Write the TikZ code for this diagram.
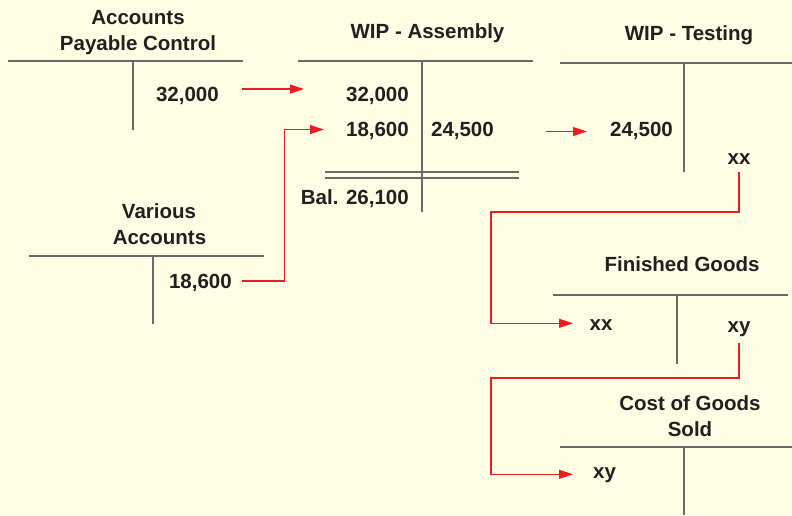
\documentclass[tikz,border=0pt]{standalone}
\usepackage{fontspec}
\setmainfont{Liberation Sans}
\usetikzlibrary{arrows.meta}
\definecolor{bg}{HTML}{FFFFE6}
\definecolor{ink}{HTML}{231F20}
\definecolor{tline}{HTML}{6A6A6A}
\definecolor{flow}{HTML}{ED1C24}
\tikzset{
  lbl/.style={font=\fontsize{20.5}{24}\selectfont\bfseries, text=ink, inner sep=0pt, anchor=base},
  lblr/.style={lbl, anchor=base east},
  tacc/.style={draw=tline, line width=1.3pt},
  flowline/.style={draw=flow, line width=1.2pt, -{Triangle[length=14pt,width=9pt]}}
}
\begin{document}
\begin{tikzpicture}[x=1pt,y=-1pt]
\fill[bg] (0,0) rectangle (792,515);
\useasboundingbox (0,0) rectangle (792,515);

% Accounts Payable Control
\node[lbl] (apt1) at (138,24) {Accounts};
\node[lbl] (apt2) at (138,50) {Payable Control};
\draw[tacc] (8,61) -- (243,61);
\draw[tacc] (133,61) -- (133,130);
\node[lblr] (ap32) at (219,101.5) {32,000};

% WIP - Assembly
\node[lbl] (wat) at (427.5,38.5) {WIP - Assembly};
\draw[tacc] (298,61) -- (533,61);
\draw[tacc] (422,61) -- (422,212);
\node[lblr] (wa32) at (409,101.5) {32,000};
\node[lblr] (wa18) at (409,136.5) {18,600};
\node[lblr] (wa24) at (494,136.5) {24,500};
\draw[tacc, line width=1.1pt] (325,172) -- (519,172);
\draw[tacc, line width=1.1pt] (325,178) -- (519,178);
\node[lblr] (wabal) at (409,204) {Bal. 26,100};

% WIP - Testing
\node[lbl] (wtt) at (689,40.5) {WIP - Testing};
\draw[tacc] (560,63) -- (792,63);
\draw[tacc] (684,63) -- (684,172);
\node[lblr] (wt24) at (673,136.5) {24,500};
\node[lbl] (wtxx) at (739,164) {xx};

% Various Accounts
\node[lbl] (vat1) at (159,218) {Various};
\node[lbl] (vat2) at (159.5,244.3) {Accounts};
\draw[tacc] (29,256) -- (264,256);
\draw[tacc] (153,256) -- (153,324);
\node[lblr] (va18) at (232,288) {18,600};

% Finished Goods
\node[lbl] (fgt) at (682,271) {Finished Goods};
\draw[tacc] (553,295) -- (788,295);
\draw[tacc] (677,295) -- (677,364);
\node[lbl] (fgxx) at (601,330) {xx};
\node[lbl] (fgxy) at (739,332.5) {xy};

% Cost of Goods Sold
\node[lbl] (cgt1) at (690,410) {Cost of Goods};
\node[lbl] (cgt2) at (690,436) {Sold};
\draw[tacc] (560,447) -- (792,447);
\draw[tacc] (684,447) -- (684,515);
\node[lbl] (cgxy) at (604.5,478) {xy};

% connector ends
\coordinate (a1s) at (242,89);
\coordinate (a1e) at (304,89);
\coordinate (a2s) at (242,281);
\coordinate (a2e) at (324,129.5);
\coordinate (a3s) at (546,131.5);
\coordinate (a3e) at (587,131.5);
\coordinate (a4s) at (739,172);
\coordinate (a4e) at (573,323.3);
\coordinate (a5s) at (739,343.3);
\coordinate (a5e) at (573,474.3);

\draw[flowline] (a1s) -- (a1e);
\draw[flowline] (a2s) -- (284.5,281) -- (284.5,129.5) -- (a2e);
\draw[flowline] (a3s) -- (a3e);
\draw[flowline] (a4s) -- (739,212) -- (491,212) -- (491,323.3) -- (a4e);
\draw[flowline] (a5s) -- (739,378) -- (491,378) -- (491,474.3) -- (a5e);
\end{tikzpicture}
\end{document}
